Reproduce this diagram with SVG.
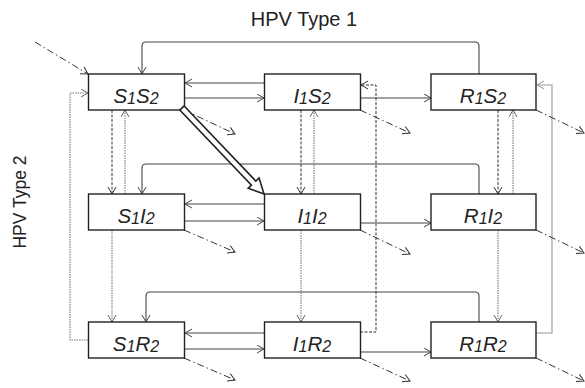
<svg xmlns="http://www.w3.org/2000/svg" width="585" height="388" viewBox="0 0 585 388">
<style>
.box{fill:#fff;stroke:#222;stroke-width:1.4}
.lbl{font-family:"Liberation Sans",Arial,sans-serif;font-style:italic;font-size:20.5px;fill:#222;text-anchor:middle}
.sub{font-size:16px}
.ttl{font-family:"Liberation Sans",Arial,sans-serif;font-size:20px;fill:#222;text-anchor:middle}
.solid{fill:none;stroke:#444;stroke-width:1.1;marker-end:url(#ah)}
.dd{fill:none;stroke:#333;stroke-width:1;stroke-dasharray:7 3 1.5 3;marker-end:url(#ahd)}
.dash{fill:none;stroke:#333;stroke-width:1;stroke-dasharray:3 1.5;marker-end:url(#ahd)}
.dot{fill:none;stroke:#777;stroke-width:1.1;stroke-dasharray:1.5 1;marker-end:url(#ahg)}
.lgray{fill:none;stroke:#999;stroke-width:1.1;marker-end:url(#ahl)}
</style>
<defs>
<marker id="ah" markerWidth="10" markerHeight="10" refX="8" refY="4.5" orient="auto" markerUnits="userSpaceOnUse"><path d="M1,0.5 L8,4.5 L1,8.5" fill="none" stroke="#444" stroke-width="1"/></marker>
<marker id="ahd" markerWidth="10" markerHeight="10" refX="8" refY="4.5" orient="auto" markerUnits="userSpaceOnUse"><path d="M1,0.5 L8,4.5 L1,8.5" fill="none" stroke="#333" stroke-width="1"/></marker>
<marker id="ahg" markerWidth="10" markerHeight="10" refX="8" refY="4.5" orient="auto" markerUnits="userSpaceOnUse"><path d="M1,0.5 L8,4.5 L1,8.5" fill="none" stroke="#666" stroke-width="1"/></marker>
<marker id="ahl" markerWidth="10" markerHeight="10" refX="8" refY="4.5" orient="auto" markerUnits="userSpaceOnUse"><path d="M1,0.5 L8,4.5 L1,8.5" fill="none" stroke="#999" stroke-width="1"/></marker>
</defs>
<rect width="585" height="388" fill="#fff"/>
<text class="ttl" x="304" y="26">HPV Type 1</text>
<text class="ttl" transform="translate(26,202) rotate(-90)" style="font-size:17.5px">HPV Type 2</text>
<g id="connectors">
<path class="solid" d="M479,74 V46 Q479,42 475,42 H146 Q142,42 142,46 V74"/>
<path class="solid" d="M479,194 V168 Q479,164 475,164 H146 Q142,164 142,168 V194"/>
<path class="solid" d="M479,322 V296 Q479,292 475,292 H150 Q146,292 146,296 V322"/>
<path class="dd" d="M35,42 L88,74"/>
<path class="solid" d="M264,83 H185"/>
<path class="solid" d="M185,98 H264"/>
<path class="solid" d="M360,98 H431"/>
<path class="solid" d="M264,204 H185"/>
<path class="solid" d="M185,221 H264"/>
<path class="solid" d="M360,223 H431"/>
<path class="solid" d="M264,333 H185"/>
<path class="solid" d="M185,349 H264"/>
<path class="solid" d="M360,352 H431"/>
<path class="dash" d="M112,110 V194"/>
<path class="dot" d="M125,194 V110"/>
<path class="dash" d="M301,110 V194"/>
<path class="dot" d="M314,194 V110"/>
<path class="dash" d="M498,110 V194"/>
<path class="dot" d="M513,194 V110"/>
<path class="dot" d="M112,230 V322"/>
<path class="dot" d="M301,230 V322"/>
<path class="dot" d="M498,230 V322"/>
<path class="dot" d="M88,340 H70 V93 H88"/>
<path class="dash" d="M360,332 H376 V85 H361"/>
<path class="lgray" d="M536,333 H552 V85 H537"/>
<path class="dd" d="M184,110 L235,134"/>
<path class="dd" d="M360,110 L410,133"/>
<path class="dd" d="M536,110 L584,133"/>
<path class="dd" d="M184,230 L235,252"/>
<path class="dd" d="M360,230 L410,254"/>
<path class="dd" d="M536,230 L584,253"/>
<path class="dd" d="M184,358 L235,380"/>
<path class="dd" d="M360,358 L410,381"/>
<path class="dd" d="M536,358 L584,381"/>
</g>
<g id="S1S2"><rect class="box" x="88.5" y="74" width="96" height="36"/><text class="lbl" x="136" y="103">S<tspan class="sub" dy="1">1</tspan><tspan dy="-1">S</tspan><tspan class="sub" dy="1">2</tspan></text></g>
<g id="I1S2"><rect class="box" x="264.5" y="74" width="96" height="36"/><text class="lbl" x="312" y="103">I<tspan class="sub" dy="1">1</tspan><tspan dy="-1">S</tspan><tspan class="sub" dy="1">2</tspan></text></g>
<g id="R1S2"><rect class="box" x="431" y="74" width="105" height="36"/><text class="lbl" x="483" y="103">R<tspan class="sub" dy="1">1</tspan><tspan dy="-1">S</tspan><tspan class="sub" dy="1">2</tspan></text></g>
<g id="S1I2"><rect class="box" x="88.5" y="194" width="96" height="36"/><text class="lbl" x="136" y="223">S<tspan class="sub" dy="1">1</tspan><tspan dy="-1">I</tspan><tspan class="sub" dy="1">2</tspan></text></g>
<g id="I1I2"><rect class="box" x="264.5" y="194" width="96" height="36"/><text class="lbl" x="312" y="223">I<tspan class="sub" dy="1">1</tspan><tspan dy="-1">I</tspan><tspan class="sub" dy="1">2</tspan></text></g>
<g id="R1I2"><rect class="box" x="431" y="194" width="105" height="36"/><text class="lbl" x="483" y="223">R<tspan class="sub" dy="1">1</tspan><tspan dy="-1">I</tspan><tspan class="sub" dy="1">2</tspan></text></g>
<g id="S1R2"><rect class="box" x="88.5" y="322" width="96" height="36"/><text class="lbl" x="136" y="351">S<tspan class="sub" dy="1">1</tspan><tspan dy="-1">R</tspan><tspan class="sub" dy="1">2</tspan></text></g>
<g id="I1R2"><rect class="box" x="264.5" y="322" width="96" height="36"/><text class="lbl" x="312" y="351">I<tspan class="sub" dy="1">1</tspan><tspan dy="-1">R</tspan><tspan class="sub" dy="1">2</tspan></text></g>
<g id="R1R2"><rect class="box" x="431" y="322" width="105" height="36"/><text class="lbl" x="483" y="351">R<tspan class="sub" dy="1">1</tspan><tspan dy="-1">R</tspan><tspan class="sub" dy="1">2</tspan></text></g>
<g id="infection-arrow" transform="translate(182,108) rotate(46.36)"><path d="M0,-3 H103.8 V-7.5 L118.8,0 L103.8,7.5 V3 H0 Z" fill="#fff" stroke="#222" stroke-width="1.6" stroke-linejoin="miter"/></g>
</svg>
